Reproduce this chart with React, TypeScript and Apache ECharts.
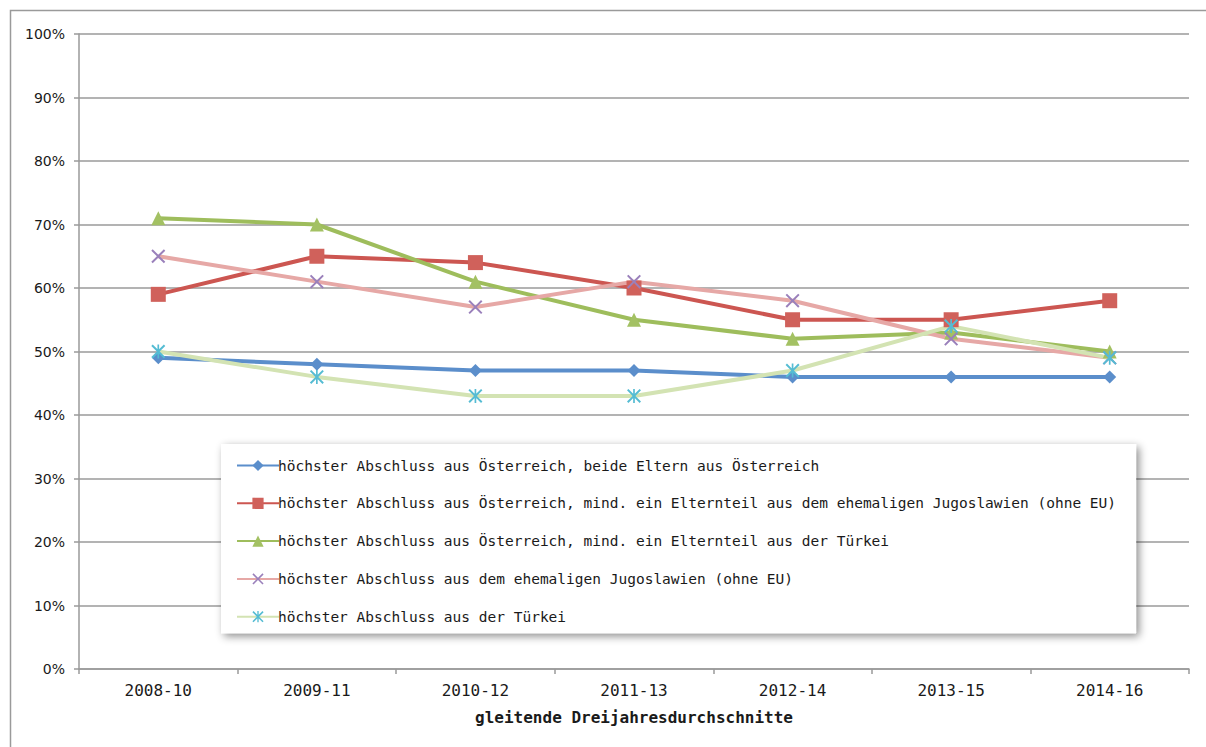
import React, { useEffect, useRef } from "react";
import * as echarts from "echarts";

const categories = ["2008-10", "2009-11", "2010-12", "2011-13", "2012-14", "2013-15", "2014-16"];
const seriesNames = [
  "höchster Abschluss aus Österreich, beide Eltern aus Österreich",
  "höchster Abschluss aus Österreich, mind. ein Elternteil aus dem ehemaligen Jugoslawien (ohne EU)",
  "höchster Abschluss aus Österreich, mind. ein Elternteil aus der Türkei",
  "höchster Abschluss aus dem ehemaligen Jugoslawien (ohne EU)",
  "höchster Abschluss aus der Türkei",
];
const austriaBoth = [49, 48, 47, 47, 46, 46, 46];
const austriaYugo = [59, 65, 64, 60, 55, 55, 58];
const austriaTurkey = [71, 70, 61, 55, 52, 53, 50];
const yugoslavia = [65, 61, 57, 61, 58, 52, 49];
const turkey = [50, 46, 43, 43, 47, 54, 49];
const yTicks = { min: 0, max: 100, interval: 10 };
const xAxisTitle = "gleitende Dreijahresdurchschnitte";

const X_PATH = "path://M1,0 L5,4 L9,0 L10,1 L6,5 L10,9 L9,10 L5,6 L1,10 L0,9 L4,5 L0,1 Z";
const STAR_PATH =
  "path://M1,0 L5,4 L9,0 L10,1 L6,5 L10,9 L9,10 L5,6 L1,10 L0,9 L4,5 L0,1 Z M4.4,0 L5.6,0 L5.6,10 L4.4,10 Z";

export default function App() {
  const ref = useRef<HTMLDivElement>(null);
  useEffect(() => {
    if (!ref.current) return;
    const chart = echarts.init(ref.current, undefined, { renderer: "svg" });
    const mono = "DejaVu Sans Mono";
    const mk = (
      name: string,
      data: number[],
      lineColor: string,
      markerColor: string,
      symbol: string,
      symbolSize: number
    ) => ({
      name,
      type: "line",
      data,
      symbol,
      symbolSize,
      showAllSymbol: true,
      lineStyle: { color: lineColor, width: 4 },
      itemStyle: { color: markerColor, borderWidth: 0 },
      emphasis: { disabled: true },
    });
    chart.setOption({
      animation: false,
      backgroundColor: "#ffffff",
      graphic: [
        {
          type: "rect",
          shape: { x: 10.5, y: 10.5, width: 1210, height: 760 },
          style: { fill: "none", stroke: "#9a9a9a", lineWidth: 1.5 },
          silent: true,
          z: -10,
        },
      ],
      grid: { left: 79, right: 17, top: 34, bottom: 78, containLabel: false },
      xAxis: {
        type: "category",
        data: categories,
        boundaryGap: true,
        axisLine: { show: true, lineStyle: { color: "#9a9a9a", width: 1.5 } },
        axisTick: { show: true, length: 5, lineStyle: { color: "#9a9a9a", width: 1.5 } },
        axisLabel: { fontFamily: mono, fontSize: 16, color: "#1a1a1a", margin: 13 },
        name: xAxisTitle,
        nameLocation: "middle",
        nameGap: 40,
        nameTextStyle: { fontFamily: mono, fontSize: 16, fontWeight: "bold", color: "#1a1a1a" },
      },
      yAxis: {
        type: "value",
        min: yTicks.min,
        max: yTicks.max,
        interval: yTicks.interval,
        axisLine: { show: true, lineStyle: { color: "#9a9a9a", width: 1.5 } },
        axisTick: { show: true, length: 5, lineStyle: { color: "#9a9a9a", width: 1.5 } },
        splitLine: { show: true, lineStyle: { color: "#9a9a9a", width: 1.5 } },
        axisLabel: {
          formatter: "{value}%",
          fontFamily: "DejaVu Sans",
          fontSize: 14,
          color: "#1a1a1a",
          margin: 14,
        },
      },
      legend: {
        orient: "vertical",
        left: 221,
        top: 444,
        data: seriesNames,
        itemWidth: 42,
        itemHeight: 14,
        itemGap: 22.8,
        padding: [14, 20, 9, 15],
        backgroundColor: "#ffffff",
        shadowBlur: 8,
        shadowColor: "rgba(0,0,0,0.45)",
        shadowOffsetX: 3,
        shadowOffsetY: 3,
        textStyle: { fontFamily: mono, fontSize: 14.5, color: "#1a1a1a", padding: [0, 0, 0, -6] },
        selectedMode: false,
      },
      series: [
        mk(seriesNames[0], austriaBoth, "#5b8ecb", "#5b8ecb", "diamond", 13),
        mk(seriesNames[1], austriaYugo, "#cc5651", "#d0615b", "rect", 15),
        mk(seriesNames[2], austriaTurkey, "#9ebd5c", "#a3c163", "triangle", 14),
        mk(seriesNames[3], yugoslavia, "#e6a8a6", "#9a80bb", X_PATH, 14),
        mk(seriesNames[4], turkey, "#d3e3b3", "#55bcd3", STAR_PATH, 14),
      ],
    });
    return () => chart.dispose();
  }, []);
  return (
    <div
      ref={ref}
      style={{ position: "fixed", left: 0, top: 0, width: 1206, height: 747 }}
    />
  );
}
